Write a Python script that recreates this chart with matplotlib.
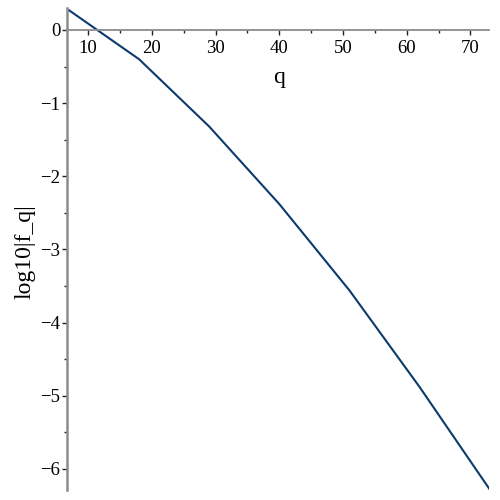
import matplotlib
matplotlib.use("Agg")
import matplotlib.pyplot as plt
from matplotlib.ticker import MultipleLocator

q = [7, 18, 29, 40, 51, 62, 73]
log_fq = [0.27, -0.40, -1.32, -2.38, -3.56, -4.88, -6.28]
x_ticks = [10, 20, 30, 40, 50, 60, 70]
y_ticks = [0, -1, -2, -3, -4, -5, -6]

plt.rcParams['font.family'] = ['Liberation Serif', 'DejaVu Serif']

fig = plt.figure(figsize=(5, 5), dpi=100)
ax = fig.add_axes([66.7/500, 1-490/500, (489.3-66.7)/500, (490-8)/500])
ax.plot(q, log_fq, color='#0c3a6e', lw=1.5, solid_joinstyle='miter')
ax.set_xlim(6.65, 72.95)
ax.set_ylim(-6.29, 0.30)

axc = '#8c8c8c'
for s in ['top', 'right']:
    ax.spines[s].set_visible(False)
ax.spines['bottom'].set_position(('data', 0))
ax.spines['bottom'].set_color(axc)
ax.spines['left'].set_color(axc)
ax.spines['bottom'].set_linewidth(1.3)
ax.spines['left'].set_linewidth(1.8)

ax.xaxis.set_minor_locator(MultipleLocator(5))
ax.yaxis.set_minor_locator(MultipleLocator(0.5))
ax.tick_params(axis='both', which='major', length=3.5, width=1, color='#222222', labelsize=13.5)
ax.tick_params(axis='both', which='minor', length=2.5, width=1, color='#222222')
ax.tick_params(axis='x', which='major', pad=3.5)
ax.tick_params(axis='y', which='major', pad=1)

def fmt(v):
    return f"{int(round(v))}".replace('-', '\u2212')
ax.set_xticks(x_ticks)
ax.set_xticklabels([fmt(v) for v in x_ticks])
ax.set_yticks(y_ticks)
ax.set_yticklabels([fmt(v) for v in y_ticks])

fig.text(279/500, 1-77/500, 'q', fontsize=17, ha='center', va='center')
fig.text(25/500, 1-252/500, 'log10|f_q|', fontsize=17, ha='center', va='center', rotation=90)

fig.savefig('out.png', dpi=100)
